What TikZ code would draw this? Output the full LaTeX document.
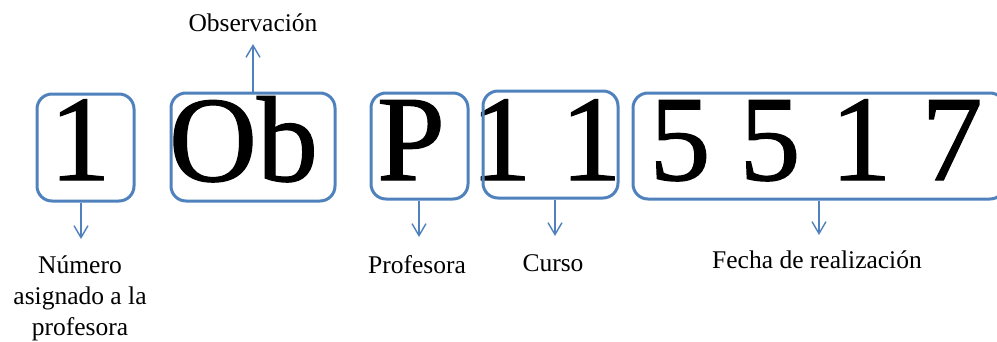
\documentclass[tikz,border=0pt]{standalone}
\usepackage{fontspec}
\setmainfont{Liberation Serif}
\newfontfamily\bigserif[FakeBold=1]{Liberation Serif}
\usetikzlibrary{arrows.meta}
\definecolor{ofblue}{HTML}{4F81BD}
\tikzset{
  box/.style={draw=ofblue, line width=3pt, rounded corners=15pt, inner sep=0pt},
  big/.style={anchor=base, inner sep=0pt, font=\bigserif\fontsize{122}{122}\selectfont},
  lab/.style={inner sep=0pt, align=center, font=\fontsize{25.5}{31}\selectfont},
  conn/.style={draw=ofblue, line width=1.4pt, -{Straight Barb[length=12pt,width=14pt,line width=1.4pt]}}
}
\begin{document}
\begin{tikzpicture}[x=1pt,y=-1pt]
\useasboundingbox (0,0) rectangle (997,341);
% big characters
\node[big] (c1) at (80,180) {1};
\node[big] (c2) at (243.5,181) {Ob};
\node[big] (c3) at (411,180) {P};
\node[big] (c4) at (501,180) {1};
\node[big] (c5) at (591,180) {1};
\node[big] (c6) at (680,180) {5};
\node[big] (c7) at (770,180) {5};
\node[big] (c8) at (861,180) {1};
\node[big] (c9) at (952,180) {7};
% boxes
\node[box, minimum width=97pt, minimum height=107pt] (b1) at (85.5,147.5) {};
\node[box, minimum width=164pt, minimum height=108pt] (b2) at (253,147) {};
\node[box, minimum width=97pt, minimum height=106pt] (b3) at (419.5,146) {};
\node[box, minimum width=135pt, minimum height=107pt] (b4) at (550.5,144.5) {};
\node[box, minimum width=372pt, minimum height=106pt] (b5) at (819,146) {};
% labels
\node[lab] (l2) at (253,23) {Observación};
\node[lab, anchor=north] (l1) at (80,256) {Número\\asignado a la\\profesora};
\node[lab] (l3) at (417,265) {Profesora};
\node[lab] (l4) at (553,263) {Curso};
\node[lab] (l5) at (817,260) {Fecha de realización};
% arrow ends
\coordinate (e1) at (81,239);
\coordinate (e2) at (253,44);
\coordinate (e3) at (419,237);
\coordinate (e4) at (555,236);
\coordinate (e5) at (819,235);
\draw[conn] (b1.south -| e1) -- (e1);
\draw[conn] (b2.north) -- (e2);
\draw[conn] (b3.south -| e3) -- (e3);
\draw[conn] (b4.south -| e4) -- (e4);
\draw[conn] (b5.south -| e5) -- (e5);
\end{tikzpicture}
\end{document}
